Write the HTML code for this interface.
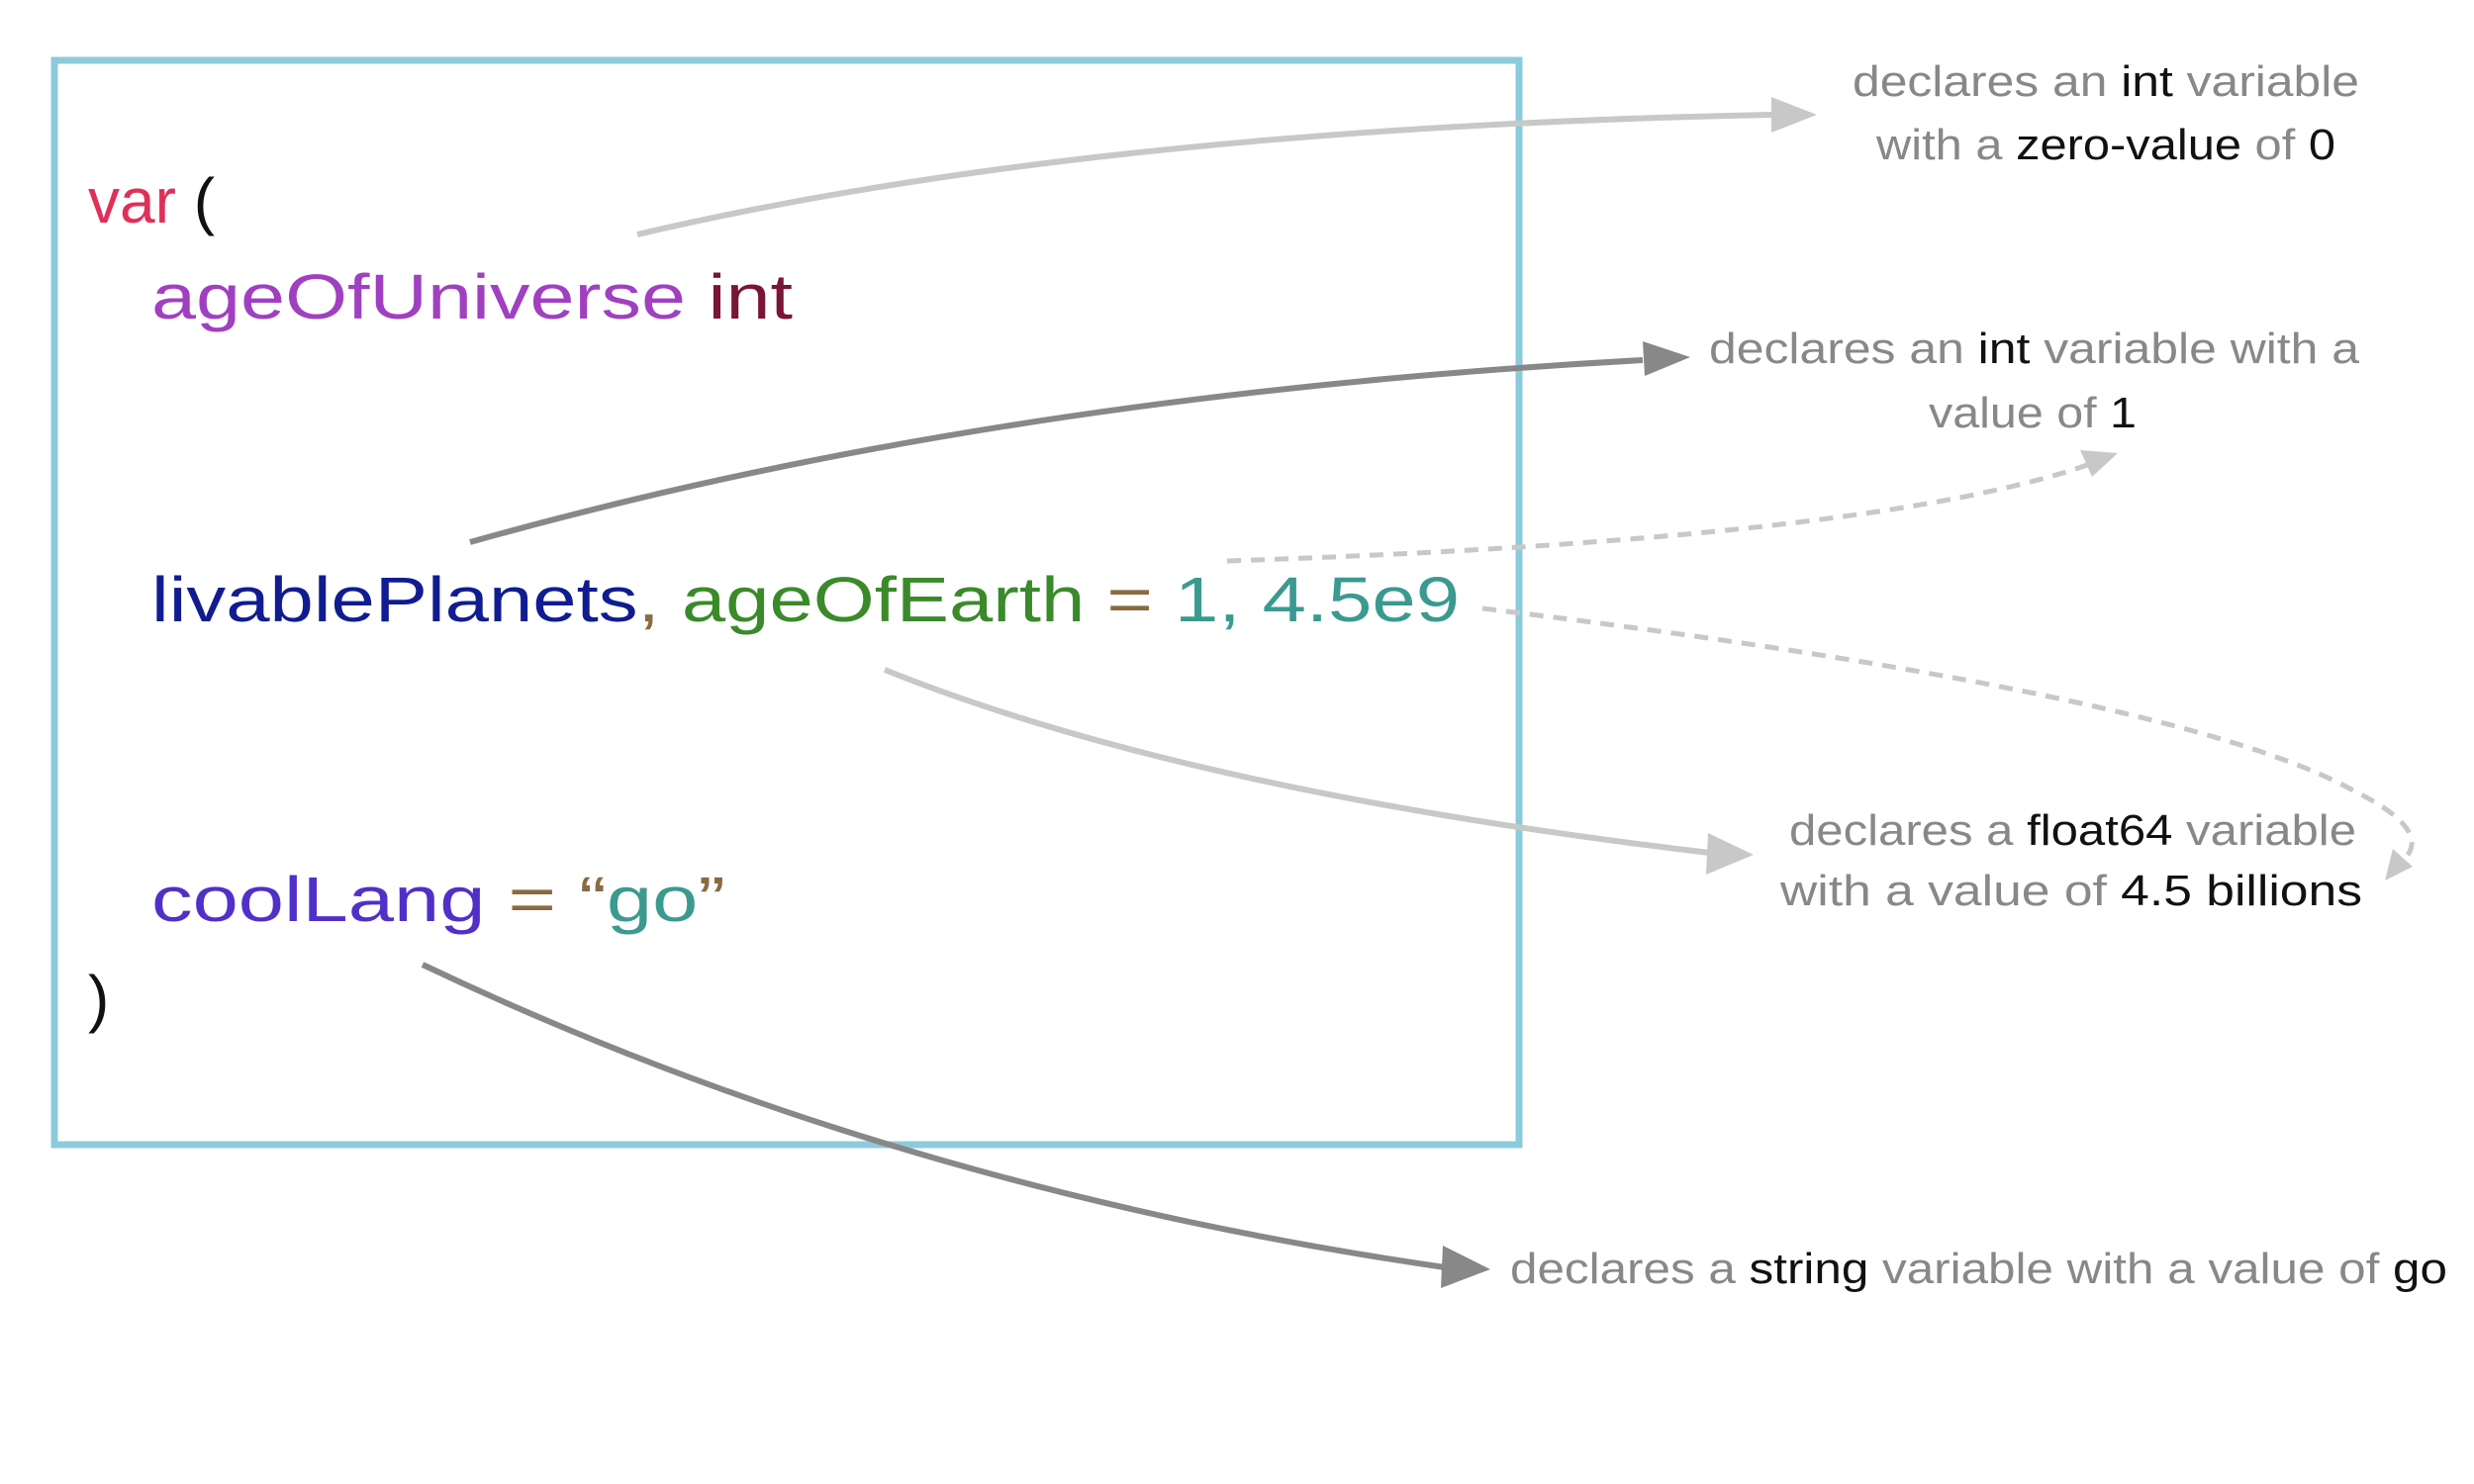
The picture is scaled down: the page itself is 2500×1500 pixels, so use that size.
<!DOCTYPE html>
<html><head><meta charset="utf-8"><style>
html,body{margin:0;padding:0;background:#fff;}
svg{display:block;}
.code{font-family:"Liberation Sans",sans-serif;font-size:64px;}
.ann{font-family:"Liberation Sans",sans-serif;font-size:44px;fill:#888;}
.k{fill:#111;}
</style></head><body>
<svg width="2500" height="1500" viewBox="0 0 2500 1500" xmlns="http://www.w3.org/2000/svg">
<!-- box -->
<rect x="55" y="61" width="1480" height="1096" fill="none" stroke="#8ccbdb" stroke-width="7"/>
<!-- code -->
<text class="code" x="89" y="225"><tspan fill="#e0305a">var</tspan><tspan fill="#111"> (</tspan></text>
<text class="code" x="153" y="322" textLength="648" lengthAdjust="spacingAndGlyphs"><tspan fill="#a040c0">ageOfUniverse</tspan><tspan fill="#7a1535"> int</tspan></text>
<text class="code" x="153" y="628" textLength="1322" lengthAdjust="spacingAndGlyphs"><tspan fill="#101c90">livablePlanets</tspan><tspan fill="#8a6a40">, </tspan><tspan fill="#3a8a2a">ageOfEarth</tspan><tspan fill="#8a6a40"> = </tspan><tspan fill="#3a9a90">1, 4.5e9</tspan></text>
<text class="code" x="153" y="931" textLength="580" lengthAdjust="spacingAndGlyphs"><tspan fill="#5030c8">coolLang</tspan><tspan fill="#8a6a40"> = “</tspan><tspan fill="#3a9a90">go</tspan><tspan fill="#8a6a40">”</tspan></text>
<text class="code" x="89" y="1031" fill="#111">)</text>
<!-- arrows -->
<path d="M644,237 Q1100,130 1790,116" fill="none" stroke="#c8c8c8" stroke-width="6"/>
<path d="M1790,98 L1836,116 L1790,134 z" fill="#c8c8c8"/>
<path d="M475,548 Q1000,400 1660,364" fill="none" stroke="#888" stroke-width="6"/>
<path d="M1660,345 L1708,361 L1662,380 z" fill="#888"/>
<path d="M894,677 Q1200,800 1728,862" fill="none" stroke="#c8c8c8" stroke-width="6"/>
<path d="M1726,842 L1772,864 L1724,884 z" fill="#c8c8c8"/>
<path d="M427,975 Q900,1200 1460,1281" fill="none" stroke="#888" stroke-width="6"/>
<path d="M1458,1259 L1506,1283 L1456,1302 z" fill="#888"/>
<path d="M1240,567 Q1900,545 2115,468" fill="none" stroke="#c8c8c8" stroke-width="5" stroke-dasharray="14,10"/>
<path d="M2102,455 L2140,458 L2114,482 z" fill="#c8c8c8"/>
<path d="M1498,615 Q2200,700 2380,800 Q2460,840 2428,870" fill="none" stroke="#c8c8c8" stroke-width="5" stroke-dasharray="14,10"/>
<path d="M2418,858 L2438,876 L2410,890 z" fill="#c8c8c8"/>
<!-- annotations -->
<text class="ann" x="1872" y="97" textLength="512" lengthAdjust="spacingAndGlyphs">declares an <tspan class="k">int</tspan> variable</text>
<text class="ann" x="1896" y="161" textLength="464" lengthAdjust="spacingAndGlyphs">with a <tspan class="k">zero-value</tspan> of <tspan class="k">0</tspan></text>
<text class="ann" x="1727" y="367" textLength="657" lengthAdjust="spacingAndGlyphs">declares an <tspan class="k">int</tspan> variable with a</text>
<text class="ann" x="1949" y="432" textLength="210" lengthAdjust="spacingAndGlyphs">value of <tspan class="k">1</tspan></text>
<text class="ann" x="1808" y="854" textLength="573" lengthAdjust="spacingAndGlyphs">declares a <tspan class="k">float64</tspan> variable</text>
<text class="ann" x="1799" y="915" textLength="588" lengthAdjust="spacingAndGlyphs">with a value of <tspan class="k">4.5 billions</tspan></text>
<text class="ann" x="1526" y="1297" textLength="947" lengthAdjust="spacingAndGlyphs">declares a <tspan class="k">string</tspan> variable with a value of <tspan class="k">go</tspan></text>
</svg>
</body></html>
